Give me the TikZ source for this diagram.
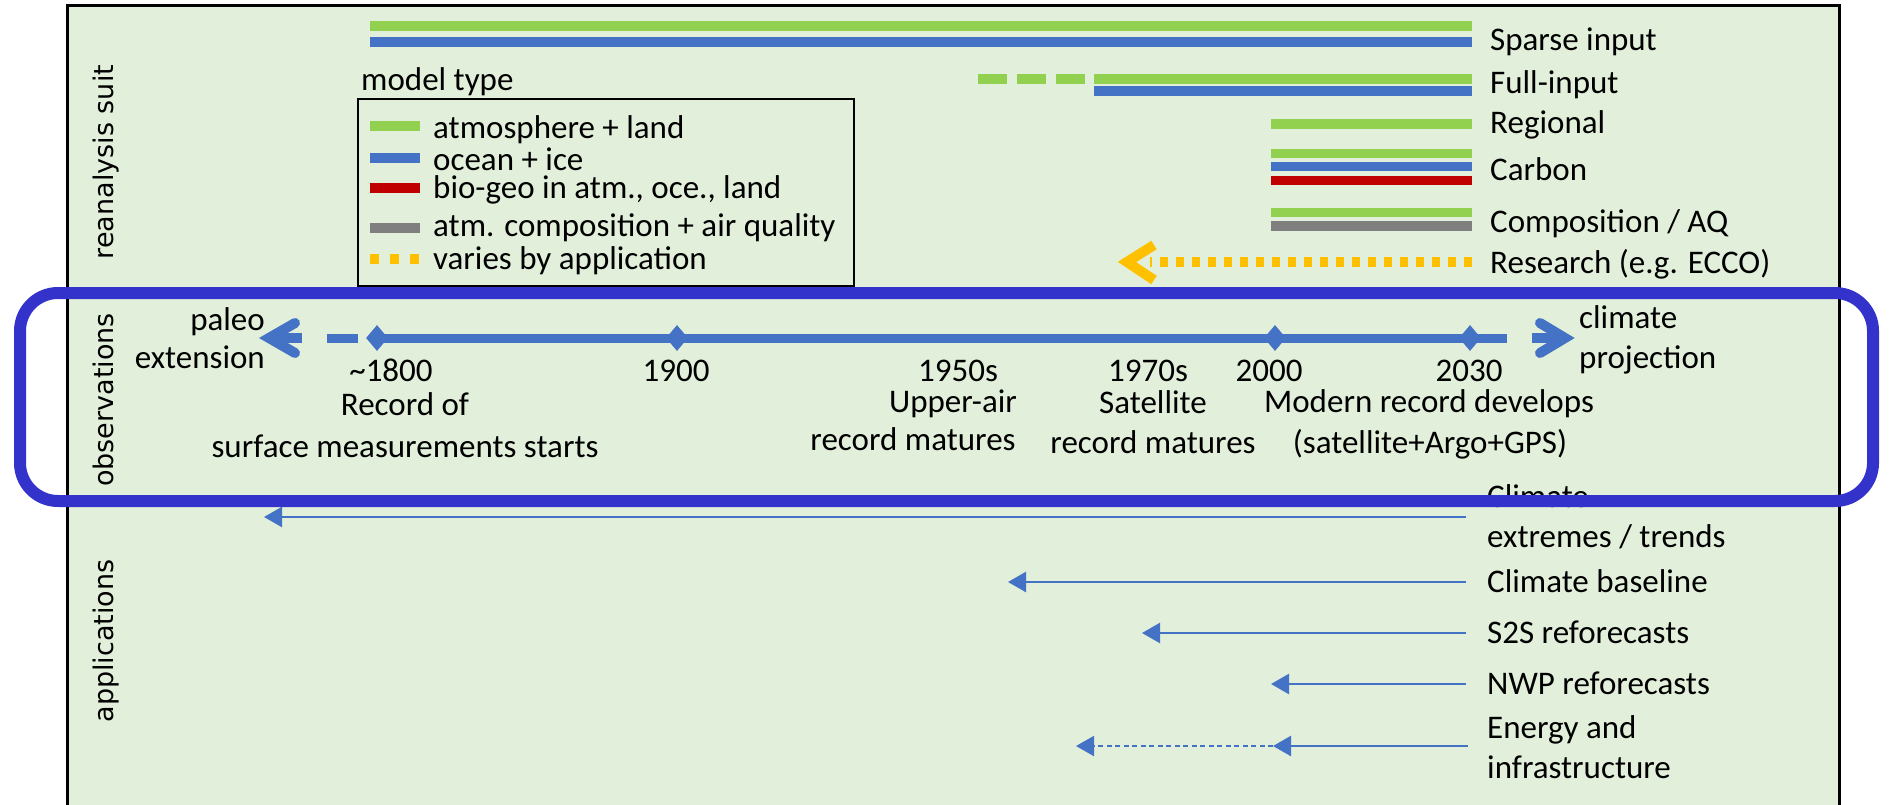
\documentclass[tikz,border=0pt]{standalone}
\usepackage{fontspec}
\setmainfont{Carlito}
\newfontfamily\labfont{DejaVu Sans}
\usetikzlibrary{arrows.meta,shapes.geometric}
\definecolor{bg}{HTML}{E2EFDA}
\definecolor{cgreen}{HTML}{92D050}
\definecolor{cblue}{HTML}{4472C4}
\definecolor{cred}{HTML}{C00000}
\definecolor{cgray}{HTML}{7F7F7F}
\definecolor{cyel}{HTML}{FFC000}
\definecolor{obsblue}{HTML}{3333CC}
\begin{document}
\begin{tikzpicture}[x=1pt,y=-1pt,
  bar/.style={line width=9.5pt},
  txt/.style={inner sep=0pt, font=\fontsize{33}{40}\selectfont, text height=21pt, text depth=0pt},
  lbl/.style={txt, anchor=west},
  ctr/.style={txt, anchor=center},
  rot/.style={rotate=90, inner sep=0pt, anchor=base, font=\labfont\fontsize{27}{30}\selectfont},
  tl/.style={cblue, line width=9pt},
  app/.style={cblue, line width=2.5pt, -{Triangle[length=18pt,width=20pt]}},
  dia/.style={diamond, fill=cblue, inner sep=0pt, minimum width=22pt, minimum height=26pt},
  chev/.style={line width=10pt, line join=miter, line cap=round}]
\clip (0,0) rectangle (1890,805);
\fill[white] (0,0) rectangle (1890,805);
\draw[fill=bg, line width=3pt] (67,6) rectangle (1839,840);

% side labels
\node[rot] (lrea) at (113,162) {reanalysis suit};
\node[rot] (lobs) at (113,400) {observations};
\node[rot] (lapp) at (113,641) {applications};

% reanalysis bars
\draw[bar,cgreen] (370,26) -- (1472,26);
\draw[bar,cblue] (370,42) -- (1472,42);
\draw[bar,cgreen,dash pattern=on 29pt off 10pt] (978,79) -- (1085,79);
\draw[bar,cgreen] (1094,79) -- (1472,79);
\draw[bar,cblue] (1094,91) -- (1472,91);
\draw[bar,cgreen] (1271,124) -- (1472,124);
\draw[bar,cgreen] (1271,153.5) -- (1472,153.5);
\draw[bar,cblue] (1271,166.5) -- (1472,166.5);
\draw[bar,cred] (1271,180.5) -- (1472,180.5);
\draw[bar,cgreen] (1271,212.5) -- (1472,212.5);
\draw[bar,cgray] (1271,226) -- (1472,226);
\draw[bar,cyel,dash pattern=on 8pt off 8pt] (1472,262) -- (1150,262);
\draw[chev,cyel,line cap=butt] (1154,245) -- (1127,262) -- (1154,280);

\node[lbl] (rsparse) at (1490,40) {Sparse input};
\node[lbl] (rfull) at (1490,83) {Full-input};
\node[lbl] (rreg) at (1490,123) {Regional};
\node[lbl] (rcarb) at (1490,170) {Carbon};
\node[lbl] (rcomp) at (1490,222) {Composition / AQ};
\node[lbl] (rres) at (1490,263) {Research (e.g. ECCO)};

% legend
\node[lbl] (mtype) at (361,80) {model type};
\draw[line width=1.5pt, fill=bg] (358,99) rectangle (854,286);
\draw[bar,cgreen] (370,126) -- (420,126);
\draw[bar,cblue] (370,158) -- (420,158);
\draw[bar,cred] (370,188) -- (420,188);
\draw[bar,cgray] (370,228) -- (420,228);
\draw[bar,cyel,dash pattern=on 9pt off 11pt] (370,259) -- (420,259);
\node[lbl] (lg1) at (433,128) {atmosphere + land};
\node[lbl] (lg2) at (433,160) {ocean + ice};
\node[lbl] (lg3) at (433,188) {bio-geo in atm., oce., land};
\node[lbl] (lg4) at (433,226) {atm. composition + air quality};
\node[lbl] (lg5) at (433,259) {varies by application};

% timeline
\node[dia] (d1800) at (377,338) {};
\node[dia] (d1900) at (677,338) {};
\node[dia] (d2000) at (1275,338) {};
\node[dia] (d2030) at (1470,338) {};
\coordinate (tlend) at (1507,338);
\coordinate (dashs) at (327,338);
\coordinate (dashe) at (358,338);
\draw[tl] (d1800.center) -- (d1900.center) -- (d2000.center) -- (d2030.center) -- (tlend);
\draw[tl] (dashs) -- (dashe);
\coordinate (lshaft) at (302,338);
\coordinate (ltip) at (269,338);
\coordinate (rshaft) at (1532,338);
\coordinate (rtip) at (1565,338);
\draw[chev,cblue,line cap=butt] (lshaft) -- (ltip);
\draw[chev,cblue] (295,323) -- (ltip) -- (295,353);
\draw[chev,cblue,line cap=butt] (rshaft) -- (rtip);
\draw[chev,cblue] (1540,323) -- (rtip) -- (1540,353);

\node[txt, anchor=east] (paleo) at (265,320) {paleo};
\node[txt, anchor=east] (ext) at (265,358) {extension};
\node[lbl] (clim) at (1579,318) {climate};
\node[lbl] (proj) at (1579,358) {projection};

\node[ctr] (y1800) at (391,371) {\char"007E 1800};
\node[ctr] (y1900) at (676,371) {1900};
\node[ctr] (y1950) at (958,371) {1950s};
\node[ctr] (y1970) at (1148,371) {1970s};
\node[ctr] (y2000) at (1269,371) {2000};
\node[ctr] (y2030) at (1469,371) {2030};
\node[ctr] (rec1) at (405,405) {Record of};
\node[ctr] (rec2) at (405,447) {surface measurements starts};
\node[ctr] (up1) at (953,402) {Upper-air};
\node[ctr] (up2) at (913,440) {record matures};
\node[ctr] (sat1) at (1153,403) {Satellite};
\node[ctr] (sat2) at (1153,443) {record matures};
\node[ctr] (mod1) at (1429,402) {Modern record develops};
\node[ctr] (mod2) at (1430,443) {(satellite+Argo+GPS)};

% applications
\coordinate (a1s) at (1466,517); \coordinate (a1e) at (264,517);
\coordinate (a2s) at (1466,582); \coordinate (a2e) at (1008,582);
\coordinate (a3s) at (1466,633); \coordinate (a3e) at (1142,633);
\coordinate (a4s) at (1466,684); \coordinate (a4e) at (1271,684);
\coordinate (a5s) at (1468,746); \coordinate (a5m) at (1273,746); \coordinate (a5e) at (1076,746);
\draw[app] (a1s) -- (a1e);
\draw[app] (a2s) -- (a2e);
\draw[app] (a3s) -- (a3e);
\draw[app] (a4s) -- (a4e);
\draw[app] (a5s) -- (a5m);
\draw[app, line width=2pt, dash pattern=on 5pt off 3.5pt] (a5m) -- (a5e);

\node[lbl] (t1a) at (1487,497) {Climate};
\node[lbl] (t1b) at (1487,537) {extremes / trends};
\node[lbl] (t2) at (1487,582) {Climate baseline};
\node[lbl] (t3) at (1487,633) {S2S reforecasts};
\node[lbl] (t4) at (1487,684) {NWP reforecasts};
\node[lbl] (t5a) at (1487,728) {Energy and};
\node[lbl] (t5b) at (1487,768) {infrastructure};

% observations frame
\draw[obsblue, line width=12pt, rounded corners=38pt] (20,293) rectangle (1873,501);
\end{tikzpicture}
\end{document}
